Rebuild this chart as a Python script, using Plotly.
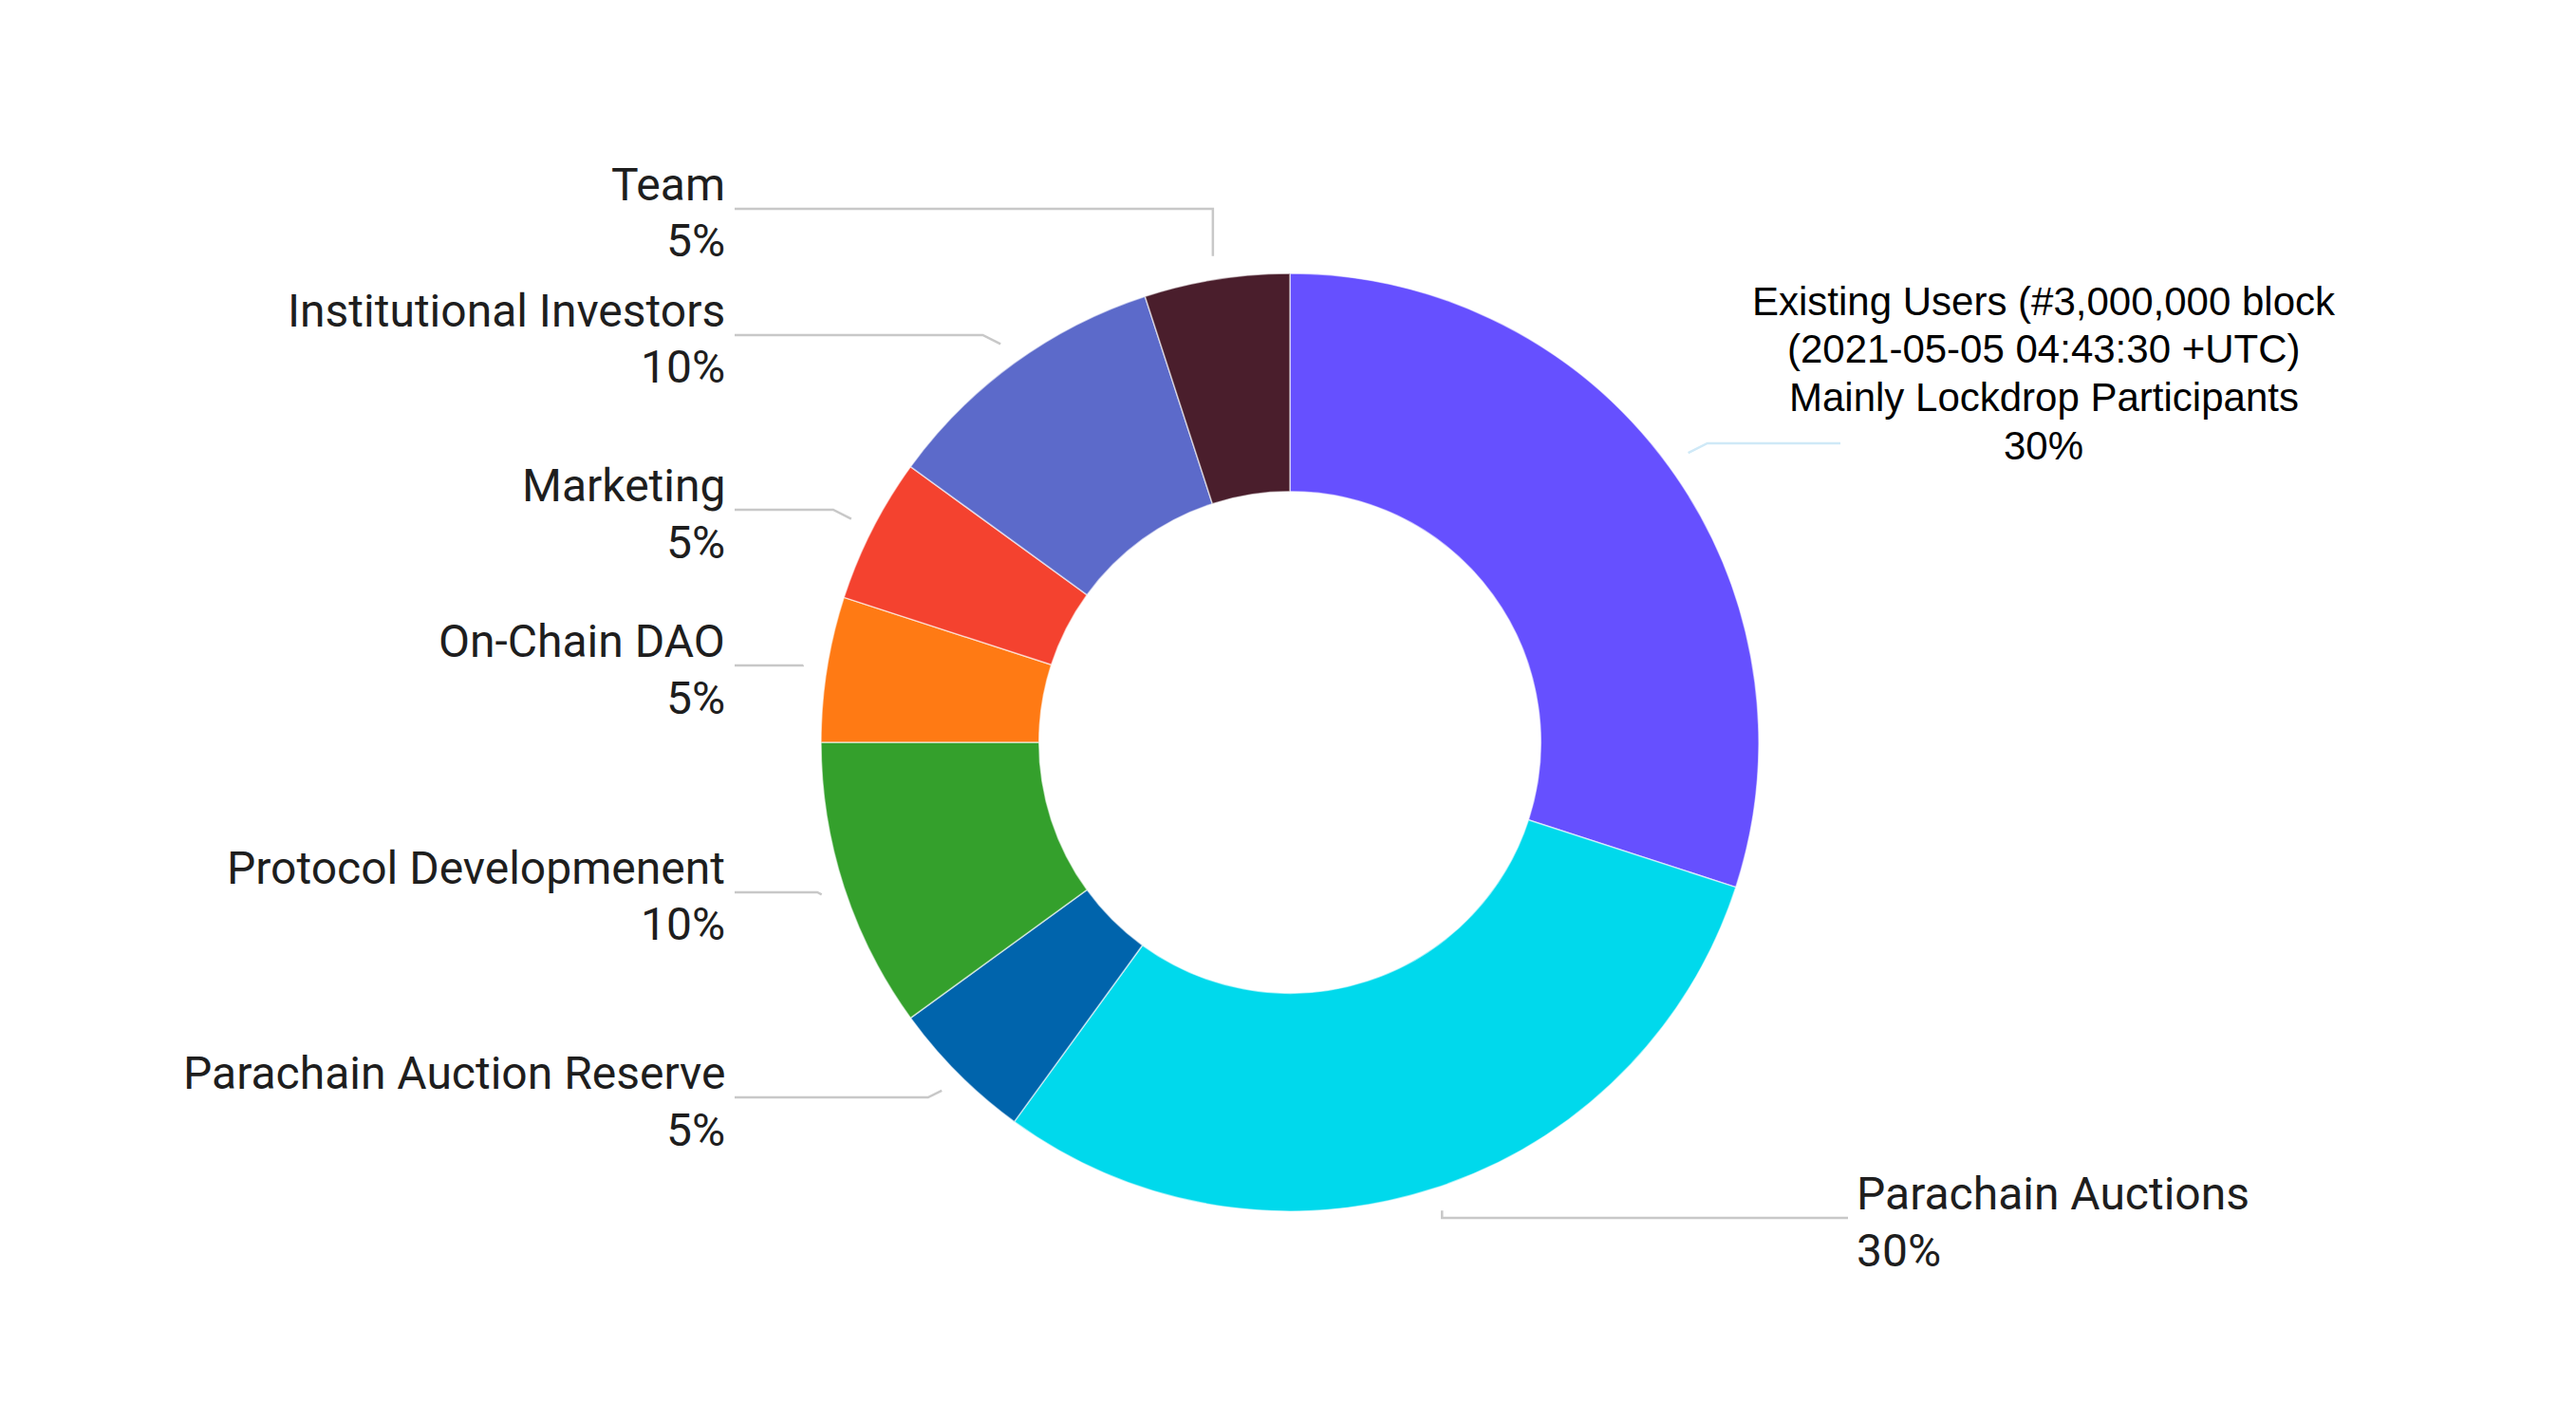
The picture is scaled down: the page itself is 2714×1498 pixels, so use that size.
import math
import plotly.graph_objects as go

# ---- data ----
categories = ["Existing Users", "Parachain Auctions", "Parachain Auction Reserve",
              "Protocol Developmenent", "On-Chain DAO", "Marketing",
              "Institutional Investors", "Team"]
values = [30, 30, 5, 10, 5, 5, 10, 5]
label_lines = [
    ["Existing Users (#3,000,000 block", "(2021-05-05 04:43:30 +UTC)", "Mainly Lockdrop Participants"],
    ["Parachain Auctions"],
    ["Parachain Auction Reserve"],
    ["Protocol Developmenent"],
    ["On-Chain DAO"],
    ["Marketing"],
    ["Institutional Investors"],
    ["Team"],
]
colors = ["#6650FF", "#00D9EC", "#0064AC", "#34A02C", "#FF7A14", "#F4422F", "#5C6ACA", "#4A1E2C"]

# ---- layout parameters (pixels) ----
W, H = 2714, 1498
OFF = 8  # page body margin
CX, CY, R = 1359, 782, 494
HOLE = 0.535
label_y = [467, 1283, 1156, 940, 701, 537, 353, 220]   # leader-line level per slice
line_end_x = [1939, 1947, 774, 774, 774, 774, 774, 774]


def px(x):
    return (x - OFF) / W


def py(y):
    return 1 - (y - OFF) / H


fig = go.Figure()
fig.add_trace(go.Pie(
    labels=categories, values=values, sort=False, direction="clockwise", rotation=0,
    hole=HOLE, textinfo="none", hoverinfo="label+percent",
    marker=dict(colors=colors, line=dict(color="rgba(255,255,255,0.6)", width=1.5)),
    domain=dict(x=[px(CX - R), px(CX + R)], y=[py(CY + R), py(CY - R)]),
    showlegend=False,
))

shapes = []
annotations = []
total = sum(values)
cum = 0
for i, v in enumerate(values):
    mid = (cum + v / 2) / total * 2 * math.pi
    cum += v
    r = 1.05 * R
    x0 = CX + r * math.sin(mid)
    y0 = CY - r * math.cos(mid)
    ly = label_y[i]
    side = 1 if math.sin(mid) > 0 else -1
    if abs(math.sin(mid)) < 0.4:
        ex = x0
    else:
        ex = x0 + side * 2 * abs(y0 - ly)
    lc = "#cfe9f7" if i == 0 else "#c8c8c8"
    path = f"M {px(x0)},{py(y0)} L {px(ex)},{py(ly)} L {px(line_end_x[i])},{py(ly)}"
    shapes.append(dict(type="path", xref="paper", yref="paper", path=path,
                       line=dict(color=lc, width=2.5)))
    pct = f"{round(v / total * 100)}%"
    if i == 0:
        lines = label_lines[i] + [pct]
        ys = [317, 367, 419, 469]
        for t, yy in zip(lines, ys):
            annotations.append(dict(x=px(2153), y=py(yy), xref="paper", yref="paper",
                                    text=t, showarrow=False, xanchor="center", yanchor="middle",
                                    font=dict(family="Liberation Sans, Arial", size=42, color="#000000")))
    elif side > 0:
        for t, dy in zip([label_lines[i][0], pct], [-26, 34]):
            annotations.append(dict(x=px(1954), y=py(ly + dy), xref="paper", yref="paper",
                                    text=t, showarrow=False, xanchor="left", yanchor="middle",
                                    font=dict(family="Roboto", size=48, color="#1e1e1e")))
    else:
        for t, dy in zip([label_lines[i][0], pct], [-26, 34]):
            annotations.append(dict(x=px(766), y=py(ly + dy), xref="paper", yref="paper",
                                    text=t, showarrow=False, xanchor="right", yanchor="middle",
                                    font=dict(family="Roboto", size=48, color="#1e1e1e")))

fig.update_layout(
    width=W, height=H, margin=dict(l=0, r=0, t=0, b=0),
    paper_bgcolor="white", plot_bgcolor="white",
    shapes=shapes, annotations=annotations,
)
fig.write_html("out.html")
